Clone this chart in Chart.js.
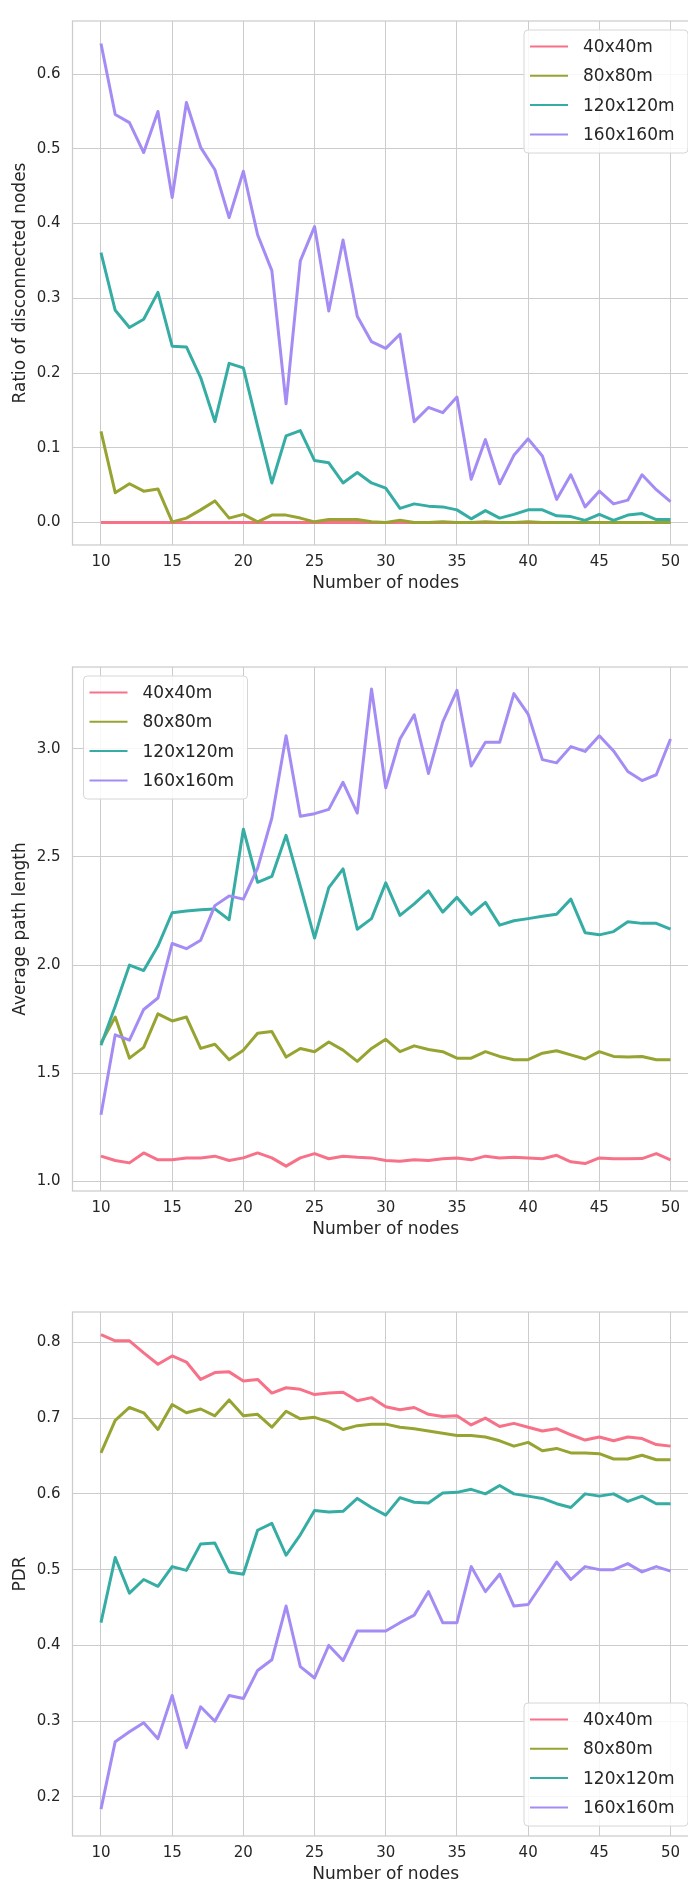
<!DOCTYPE html>
<html>
<head>
<meta charset="utf-8">
<script src="https://cdn.jsdelivr.net/npm/chart.js@4.4.0/dist/chart.umd.min.js"></script>
<style>
  html, body { margin: 0; padding: 0; background: #fff; }
  body { width: 688px; height: 1887px; overflow: hidden; position: relative; }
  canvas { position: absolute; left: 0; }
</style>
</head>
<body>
<canvas id="ratioChart" width="699" height="600" style="top:0px"></canvas>
<canvas id="pathChart" width="699" height="600" style="top:646px"></canvas>
<canvas id="pdrChart" width="699" height="600" style="top:1291px"></canvas>
<script>
// x axis : number of nodes
const nodes = [10,11,12,13,14,15,16,17,18,19,20,21,22,23,24,25,26,27,28,29,30,
               31,32,33,34,35,36,37,38,39,40,41,42,43,44,45,46,47,48,49,50];
const areaLabels = ['40x40m', '80x80m', '120x120m', '160x160m'];
const areaColors = ['#f77189', '#97a431', '#36ada4', '#a48cf4'];
const xTicks = [10, 15, 20, 25, 30, 35, 40, 45, 50];

// ---- chart 1 : ratio of disconnected nodes ----
const ratio40 = [0,0,0,0,0,0,0,0,0,0,0,0,0,0,0,0,0,0,0,0,0,
                 0,0,0,0,0,0,0,0,0,0,0,0,0,0,0,0,0,0,0,0];
const ratio80 = [0.122,0.040,0.052,0.042,0.045,0.001,0.006,0.017,0.029,0.006,0.011,0.001,0.010,0.010,0.006,0.001,0.004,0.004,0.004,0.001,0.000,
                 0.003,0.000,0.000,0.001,0.000,0.000,0.001,0.000,0.000,0.001,0.000,0.000,0.000,0.000,0.000,0.000,0.000,0.000,0.000,0.000];
const ratio120 = [0.361,0.284,0.261,0.272,0.308,0.236,0.235,0.194,0.135,0.213,0.207,0.129,0.053,0.116,0.123,0.083,0.080,0.053,0.067,0.053,0.046,
                  0.019,0.025,0.022,0.021,0.017,0.005,0.016,0.006,0.011,0.017,0.017,0.009,0.008,0.003,0.011,0.003,0.010,0.012,0.004,0.004];
const ratio160 = [0.641,0.546,0.535,0.495,0.550,0.435,0.562,0.502,0.472,0.408,0.470,0.385,0.337,0.159,0.350,0.396,0.283,0.378,0.276,0.242,0.233,
                  0.252,0.135,0.154,0.147,0.168,0.058,0.111,0.052,0.090,0.112,0.089,0.031,0.064,0.021,0.042,0.025,0.030,0.064,0.044,0.028];
const ratioTicks = [0.0, 0.1, 0.2, 0.3, 0.4, 0.5, 0.6];

// ---- chart 2 : average path length ----
const path40 = [1.117,1.097,1.086,1.132,1.100,1.100,1.109,1.109,1.117,1.097,1.109,1.132,1.109,1.071,1.109,1.129,1.105,1.117,1.112,1.109,1.097,
                1.094,1.100,1.097,1.105,1.109,1.100,1.117,1.109,1.112,1.109,1.105,1.121,1.091,1.083,1.109,1.105,1.105,1.106,1.129,1.100];
const path80 = [1.640,1.760,1.570,1.620,1.775,1.742,1.760,1.615,1.634,1.563,1.607,1.685,1.693,1.575,1.615,1.600,1.645,1.607,1.555,1.615,1.657,
                1.600,1.627,1.610,1.600,1.570,1.570,1.600,1.578,1.563,1.563,1.593,1.604,1.585,1.566,1.600,1.578,1.575,1.578,1.563,1.563];
const path120 = [1.630,1.810,2.000,1.975,2.088,2.242,2.250,2.256,2.260,2.210,2.628,2.383,2.410,2.600,2.365,2.125,2.358,2.445,2.166,2.215,2.380,
                 2.230,2.283,2.343,2.245,2.313,2.235,2.290,2.185,2.205,2.215,2.226,2.235,2.305,2.150,2.140,2.155,2.200,2.193,2.193,2.166];
const path160 = [1.308,1.678,1.653,1.795,1.848,2.100,2.076,2.115,2.275,2.320,2.305,2.448,2.680,3.060,2.688,2.700,2.720,2.845,2.703,3.276,2.820,
                 3.045,3.157,2.886,3.123,3.270,2.920,3.030,3.030,3.255,3.160,2.950,2.935,3.010,2.988,3.060,2.990,2.895,2.853,2.880,3.045];
const pathTicks = [1.0, 1.5, 2.0, 2.5, 3.0];

// ---- chart 3 : PDR ----
const pdr40 = [0.810,0.802,0.802,0.786,0.771,0.782,0.774,0.751,0.760,0.761,0.749,0.751,0.733,0.740,0.738,0.731,0.733,0.734,0.723,0.727,0.715,
               0.711,0.714,0.705,0.702,0.703,0.691,0.700,0.689,0.693,0.688,0.683,0.686,0.678,0.671,0.675,0.670,0.675,0.673,0.665,0.663];
const pdr80 = [0.654,0.697,0.714,0.707,0.685,0.718,0.707,0.712,0.703,0.724,0.703,0.705,0.688,0.709,0.699,0.701,0.695,0.685,0.690,0.692,0.692,
               0.688,0.686,0.683,0.680,0.677,0.677,0.675,0.670,0.663,0.668,0.657,0.660,0.654,0.654,0.653,0.646,0.646,0.651,0.645,0.645];
const pdr120 = [0.430,0.516,0.469,0.487,0.478,0.504,0.499,0.534,0.535,0.497,0.494,0.552,0.561,0.519,0.546,0.578,0.576,0.577,0.594,0.582,0.572,
                0.595,0.589,0.588,0.601,0.602,0.606,0.600,0.611,0.600,0.597,0.594,0.587,0.582,0.600,0.597,0.600,0.590,0.597,0.587,0.587];
const pdr160 = [0.184,0.273,0.286,0.298,0.277,0.334,0.265,0.319,0.300,0.334,0.330,0.367,0.381,0.452,0.372,0.357,0.400,0.380,0.419,0.419,0.419,
                0.430,0.440,0.471,0.430,0.430,0.504,0.471,0.494,0.452,0.454,0.482,0.510,0.487,0.504,0.500,0.500,0.508,0.497,0.504,0.498];
const pdrTicks = [0.2, 0.3, 0.4, 0.5, 0.6, 0.7, 0.8];

Chart.defaults.font.family = "'DejaVu Sans', sans-serif";
Chart.defaults.color = '#262626';

// 테두리 + 그래프 안쪽 범례
const frameLegend = {
  id: 'frameLegend',
  afterDatasetsDraw(chart, args, opts) {
    const ctx = chart.ctx, a = chart.chartArea;
    ctx.save();
    ctx.strokeStyle = '#cccccc';
    ctx.lineWidth = 1.25;
    ctx.strokeRect(a.left, a.top, a.right - a.left, a.bottom - a.top);

    const w = 164, h = 123, mx = 11, my = 9;
    const bx = opts.corner[1] === 'r' ? a.right - mx - w : a.left + mx;
    const by = opts.corner[0] === 't' ? a.top + my : a.bottom - 10 - h;
    ctx.beginPath();
    ctx.roundRect(bx, by, w, h, 4);
    ctx.fillStyle = 'rgba(255,255,255,0.85)';
    ctx.fill();
    ctx.strokeStyle = '#d6d6d6';
    ctx.lineWidth = 1;
    ctx.stroke();

    ctx.font = "17px 'DejaVu Sans'";
    ctx.textBaseline = 'middle';
    chart.data.datasets.forEach((d, i) => {
      const y = by + 16.5 + i * 29.3;
      ctx.strokeStyle = d.borderColor;
      ctx.lineWidth = 2;
      ctx.beginPath();
      ctx.moveTo(bx + 6, y);
      ctx.lineTo(bx + 44, y);
      ctx.stroke();
      ctx.fillStyle = '#262626';
      ctx.fillText(d.label, bx + 59, y + 1);
    });
    ctx.restore();
  }
};

function makeChart(id, series, yTitle, yMin, yMax, yTicks, digits, corner) {
  new Chart(document.getElementById(id), {
    type: 'line',
    data: {
      datasets: series.map((vals, i) => ({
        label: areaLabels[i],
        data: nodes.map((n, k) => ({ x: n, y: vals[k] })),
        borderColor: areaColors[i],
        borderWidth: 3,
        borderJoinStyle: 'round',
        pointRadius: 0,
        tension: 0,
        order: 4 - i
      }))
    },
    options: {
      responsive: false,
      animation: false,
      devicePixelRatio: 1,
      layout: { padding: { top: 7, left: 0, right: 0, bottom: 0 } },
      plugins: {
        legend: { display: false },
        tooltip: { enabled: false },
        frameLegend: { corner: corner }
      },
      scales: {
        x: {
          type: 'linear',
          min: 8, max: 52,
          afterBuildTicks: s => { s.ticks = xTicks.map(v => ({ value: v })); },
          afterFit: s => { s.height = 55; },
          grid: { color: '#cccccc', lineWidth: 1, drawTicks: false },
          border: { display: false },
          ticks: { padding: 8, font: { size: 15 }, color: '#262626' },
          title: { display: true, text: 'Number of nodes', font: { size: 17 }, color: '#262626',
                   padding: { top: 0, bottom: 6 } }
        },
        y: {
          min: yMin, max: yMax,
          afterBuildTicks: s => { s.ticks = yTicks.map(v => ({ value: v })); },
          afterFit: s => { s.width = 72.5; },
          grid: { color: '#cccccc', lineWidth: 1, drawTicks: false },
          border: { display: false },
          ticks: { padding: 12, font: { size: 15 }, color: '#262626',
                   callback: v => v.toFixed(digits) },
          title: { display: true, text: yTitle, font: { size: 17 }, color: '#262626',
                   padding: { top: 10, bottom: 0 } }
        }
      }
    },
    plugins: [frameLegend]
  });
}

makeChart('ratioChart', [ratio40, ratio80, ratio120, ratio160], 'Ratio of disconnected nodes', -0.030, 0.671, ratioTicks, 1, 'tr');
makeChart('pathChart', [path40, path80, path120, path160], 'Average path length', 0.956, 3.378, pathTicks, 1, 'tl');
makeChart('pdrChart', [pdr40, pdr80, pdr120, pdr160], 'PDR', 0.1485, 0.840, pdrTicks, 1, 'br');
</script>
</body>
</html>
